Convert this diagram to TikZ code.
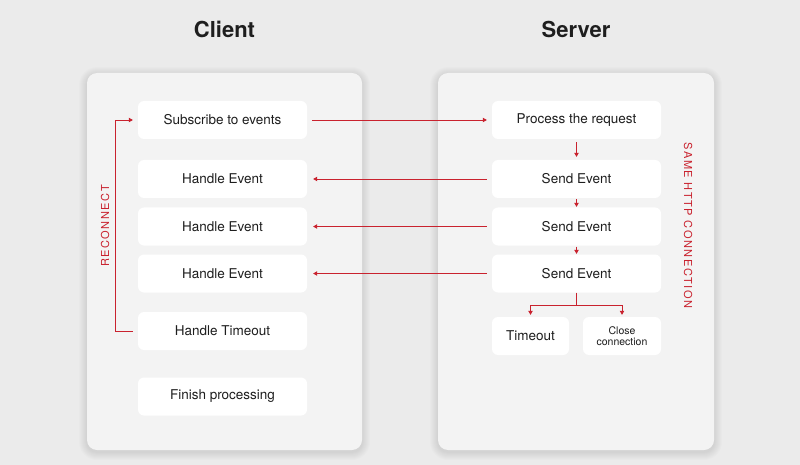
\documentclass[tikz,border=0pt]{standalone}
\usepackage{fontspec}
\setmainfont{TeX Gyre Heros}
\newfontfamily\lblfont[LetterSpace=14]{TeX Gyre Heros}
\usetikzlibrary{arrows.meta}
\definecolor{bgc}{HTML}{EBEBEB}
\definecolor{panelc}{HTML}{F3F3F3}
\definecolor{redc}{HTML}{C9222E}
\definecolor{txtc}{HTML}{1E1E1E}
\tikzset{
  panel/.style={fill=panelc, draw=none, rounded corners=10pt},
  box/.style={fill=white, draw=none, rounded corners=6pt, minimum width=169pt, minimum height=38pt, inner sep=0pt, text=txtc, font=\fontsize{13.5}{16}\selectfont},
  smallbox/.style={box, minimum width=77pt},
  title/.style={text=txtc, font=\fontsize{22}{26}\selectfont\bfseries},
  arr/.style={draw=redc, line width=0.7pt, -{Triangle[length=4pt,width=4.5pt]}},
  ln/.style={draw=redc, line width=0.7pt},
  sidelbl/.style={text=redc, font=\lblfont\fontsize{11}{13}\selectfont}
}
\begin{document}
\begin{tikzpicture}[x=1pt,y=-1pt]
\useasboundingbox (0,0) rectangle (800,465);
\fill[bgc] (0,0) rectangle (800,465);
% soft shadows
\foreach \i in {1,...,8}{
  \fill[black, opacity=0.012, rounded corners={10pt+\i pt}] (87-\i,73-\i+2) rectangle (362+\i,450+\i+2);
  \fill[black, opacity=0.012, rounded corners={10pt+\i pt}] (438-\i,73-\i+2) rectangle (714+\i,450+\i+2);
}
% panels
\path[panel] (87,73) rectangle (362,450);
\path[panel] (438,73) rectangle (714,450);
% titles
\node[title] (tclient) at (224.5,29) {Client};
\node[title] (tserver) at (576,29) {Server};
% client boxes
\node[box] (sub) at (222.5,120) {Subscribe to events};
\node[box] (he1) at (222.5,179) {Handle Event};
\node[box] (he2) at (222.5,226.5) {Handle Event};
\node[box] (he3) at (222.5,273.5) {Handle Event};
\node[box] (ht) at (222.5,331) {Handle Timeout};
\node[box] (fin) at (222.5,396.5) {Finish processing};
% server boxes
\node[box] (pr) at (576.5,120) {Process the request};
\node[box] (se1) at (576.5,179) {Send Event};
\node[box] (se2) at (576.5,226.5) {Send Event};
\node[box] (se3) at (576.5,273.5) {Send Event};
\node[smallbox] (to) at (530.5,336) {Timeout};
\node[smallbox, minimum width=78pt, align=center, font=\fontsize{10.5}{11}\selectfont] (cc) at (622,336) {Close\\connection};
% horizontal arrows
\draw[arr, shorten <=5pt, shorten >=5pt] (sub.east) -- (pr.west);
\draw[arr, shorten <=5pt, shorten >=6pt] (se1.west) -- (he1.east);
\draw[arr, shorten <=5pt, shorten >=6pt] (se2.west) -- (he2.east);
\draw[arr, shorten <=5pt, shorten >=6pt] (se3.west) -- (he3.east);
% vertical arrows
\draw[arr, shorten <=3pt, shorten >=3pt] (pr.south) -- (se1.north);
\draw[arr, shorten <=1pt, shorten >=0.5pt] (se1.south) -- (se2.north);
\draw[arr, shorten <=1pt, shorten >=0.5pt] (se2.south) -- (se3.north);
% branch
\coordinate (br) at (576.5,305);
\draw[ln] (se3.south) -- (br);
\draw[arr, shorten >=2pt] (br) -| (to.north);
\draw[arr, shorten >=2pt] (br) -| (cc.north);
% reconnect
\draw[arr, shorten <=5pt, shorten >=5pt] (ht.west) -- ++(-22,0) |- (sub.west);
% side labels
\node[sidelbl, rotate=90] (rec) at (105,226) {RECONNECT};
\node[sidelbl, rotate=-90] (same) at (688,225.5) {SAME HTTP CONNECTION};
\end{tikzpicture}
\end{document}
